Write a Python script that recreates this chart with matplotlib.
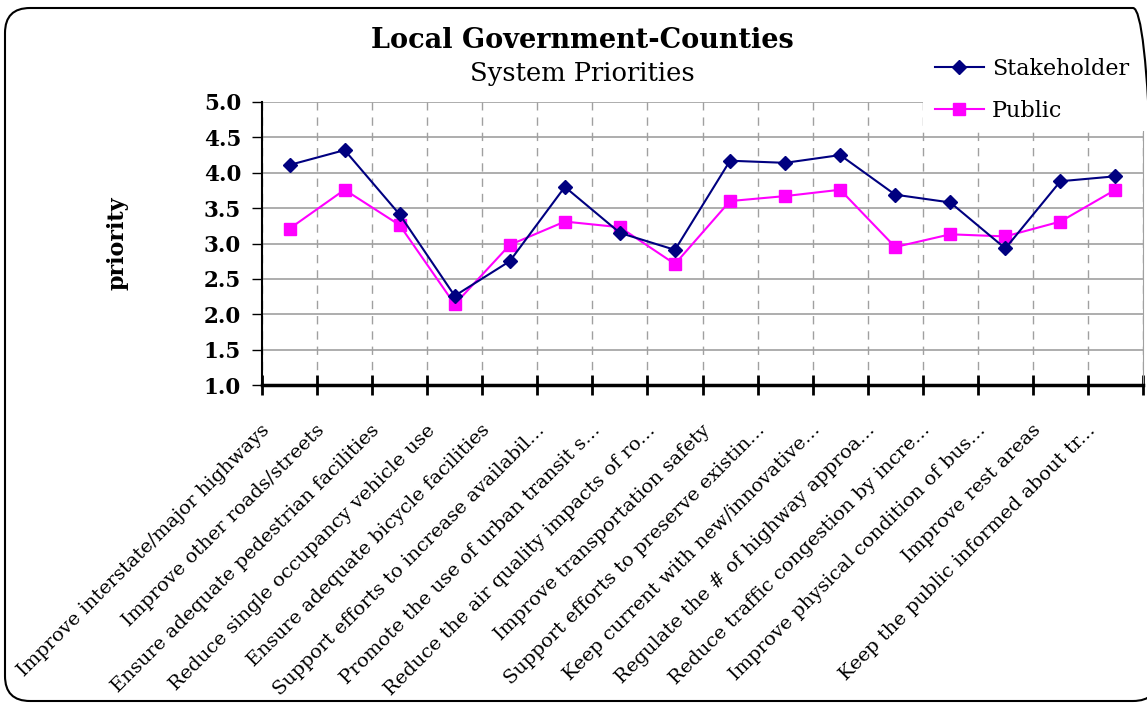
import numpy as np
import matplotlib
matplotlib.use('Agg')
import matplotlib.pyplot as plt
import matplotlib.transforms as mtransforms
from matplotlib.patches import Rectangle, FancyBboxPatch

# chart data
categories = [
    'Improve interstate/major highways',
    'Improve other roads/streets',
    'Ensure adequate pedestrian facilities',
    'Reduce single occupancy vehicle use',
    'Ensure adequate bicycle facilities',
    'Support efforts to increase availabil...',
    'Promote the use of urban transit s...',
    'Reduce the air quality impacts of ro...',
    'Improve transportation safety',
    'Support efforts to preserve existin...',
    'Keep current with new/innovative...',
    'Regulate the # of highway approa...',
    'Reduce traffic congestion by incre...',
    'Improve physical condition of bus...',
    'Improve rest areas',
    'Keep the public informed about tr...',
]
stakeholder = [4.11, 4.32, 3.41, 2.26, 2.75, 3.80, 3.15, 2.91,
               4.17, 4.14, 4.25, 3.69, 3.58, 2.93, 3.88, 3.95]
public = [3.21, 3.76, 3.26, 2.14, 2.98, 3.31, 3.23, 2.71,
          3.60, 3.67, 3.76, 2.95, 3.13, 3.10, 3.31, 3.76]
yticks = [1.0, 1.5, 2.0, 2.5, 3.0, 3.5, 4.0, 4.5, 5.0]

plt.rcParams['font.family'] = ['DejaVu Serif']

fig = plt.figure(figsize=(11.47, 7.04), dpi=100)
ax = fig.add_axes([262 / 1147, 1 - 385 / 704, (1143 - 262) / 1147, (385 - 102) / 704])

x = np.arange(len(categories))
ax.plot(x, stakeholder, color='#000080', marker='D', markersize=7, lw=1.5,
        label='Stakeholder', zorder=4)
ax.plot(x, public, color='#FF00FF', marker='s', markersize=8, lw=1.5,
        label='Public', zorder=3)

ax.set_xlim(-0.5, len(categories) - 0.5)
ax.set_ylim(1.0, 5.0)

# y axis
ax.set_yticks(yticks)
ax.set_yticklabels([f'{v:.1f}' for v in yticks], fontsize=15.5, fontweight='bold')
ax.tick_params(axis='y', direction='out', length=7, width=1, pad=8)
ax.yaxis.grid(True, color='#a0a0a0', lw=1.2)

# x axis: ticks between categories, labels drawn at category centers
ax.set_xticks(np.arange(-0.5, len(categories), 1.0))
ax.set_xticklabels([])
ax.tick_params(axis='x', which='major', direction='inout', length=14, width=2)
ax.xaxis.grid(True, which='major', color='#a0a0a0', lw=1, ls=(0, (6, 5)))
ax.set_axisbelow(True)

offset = mtransforms.ScaledTranslation(-0.29, -0.36, fig.dpi_scale_trans)
for i, cat in enumerate(categories):
    ax.text(x[i], 0, cat, transform=ax.get_xaxis_transform() + offset,
            rotation=45, rotation_mode='anchor', ha='right', va='top',
            fontsize=14)

ax.spines['top'].set_visible(False)
ax.spines['right'].set_color('#a0a0a0')
ax.spines['left'].set_linewidth(1.5)
ax.spines['bottom'].set_linewidth(2.5)

ax.set_ylabel('priority', fontsize=16, fontweight='bold', labelpad=54)

# legend sits over the top right corner of the plot
fig.add_artist(Rectangle((923 / 1147, 1 - 131 / 704), 0.2, 0.2,
                         transform=fig.transFigure, facecolor='white',
                         edgecolor='none', zorder=2))
leg = fig.legend(loc='upper left', bbox_to_anchor=(915 / 1147, 1 - 38 / 704),
                 frameon=False, fontsize=16, handlelength=2.2, labelspacing=0.9,
                 handletextpad=0.35)
leg.set_zorder(3)

fig.text(582 / 1147, 1 - 40 / 704, 'Local Government-Counties', ha='center',
         va='center', fontsize=19.5, fontweight='bold')
fig.text(582 / 1147, 1 - 74 / 704, 'System Priorities', ha='center',
         va='center', fontsize=18.5)

# rounded border around the chart
fig.add_artist(FancyBboxPatch((5, 3), 1153, 693, boxstyle='round,pad=0,rounding_size=25',
                              transform=None, facecolor='none', edgecolor='black',
                              lw=1.5, zorder=5))

fig.savefig('out.png', dpi=100)
